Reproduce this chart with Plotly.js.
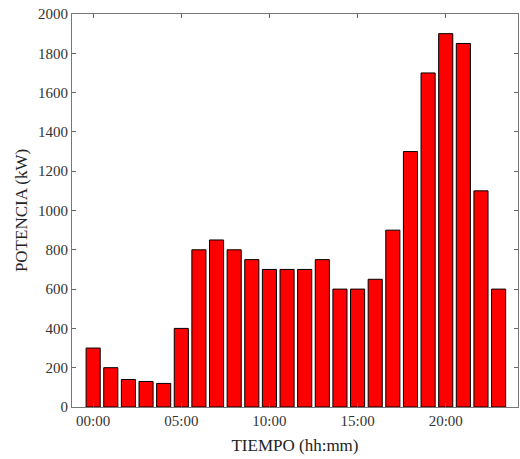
<!DOCTYPE html>
<html><head><meta charset="utf-8">
<script src="https://cdn.plot.ly/plotly-3.0.1.min.js"></script>
<style>html,body{margin:0;padding:0;background:#fff}</style>
</head><body>
<div id="chart" style="width:520px;height:459px"></div>
<script>
const hours = [0,1,2,3,4,5,6,7,8,9,10,11,12,13,14,15,16,17,18,19,20,21,22,23];
const potencia = [300,200,140,130,120,400,800,850,800,750,700,700,700,750,600,600,650,900,1300,1700,1900,1850,1100,600];
const tickVals = [0,5,10,15,20];
const tickText = ['00:00','05:00','10:00','15:00','20:00'];

const fam = 'Liberation Serif, Times New Roman, serif';
const font = {family:fam, size:15, color:'#333'};
Plotly.newPlot('chart', [{
  type:'bar', x:hours, y:potencia, width:0.8,
  marker:{color:'#ff0000', line:{color:'#000', width:1}}
}], {
  width:520, height:459,
  margin:{l:72, r:2, t:14, b:52},
  paper_bgcolor:'#fff', plot_bgcolor:'#fff',
  font:font, showlegend:false,
  xaxis:{range:[-1.2,24.1], tickvals:tickVals, ticktext:tickText, ticks:'inside', ticklen:4,
    tickcolor:'#666', showline:true, linecolor:'#777', linewidth:1.2, mirror:'ticks', showgrid:false, zeroline:false,
    tickfont:{family:fam, size:15, color:'#333'},
    title:{text:'TIEMPO (hh:mm)', font:{family:fam, size:17, color:'#222'}, standoff:11}},
  yaxis:{range:[0,2000], dtick:200, ticks:'inside', ticklen:4, tickcolor:'#666',
    showline:true, linecolor:'#777', linewidth:1.2, mirror:'ticks', showgrid:false, zeroline:false,
    tickfont:{family:fam, size:15, color:'#333'},
    title:{text:'POTENCIA (kW)', font:{family:fam, size:17, color:'#222'}, standoff:5}}
}, {displayModeBar:false});
</script>
</body></html>
